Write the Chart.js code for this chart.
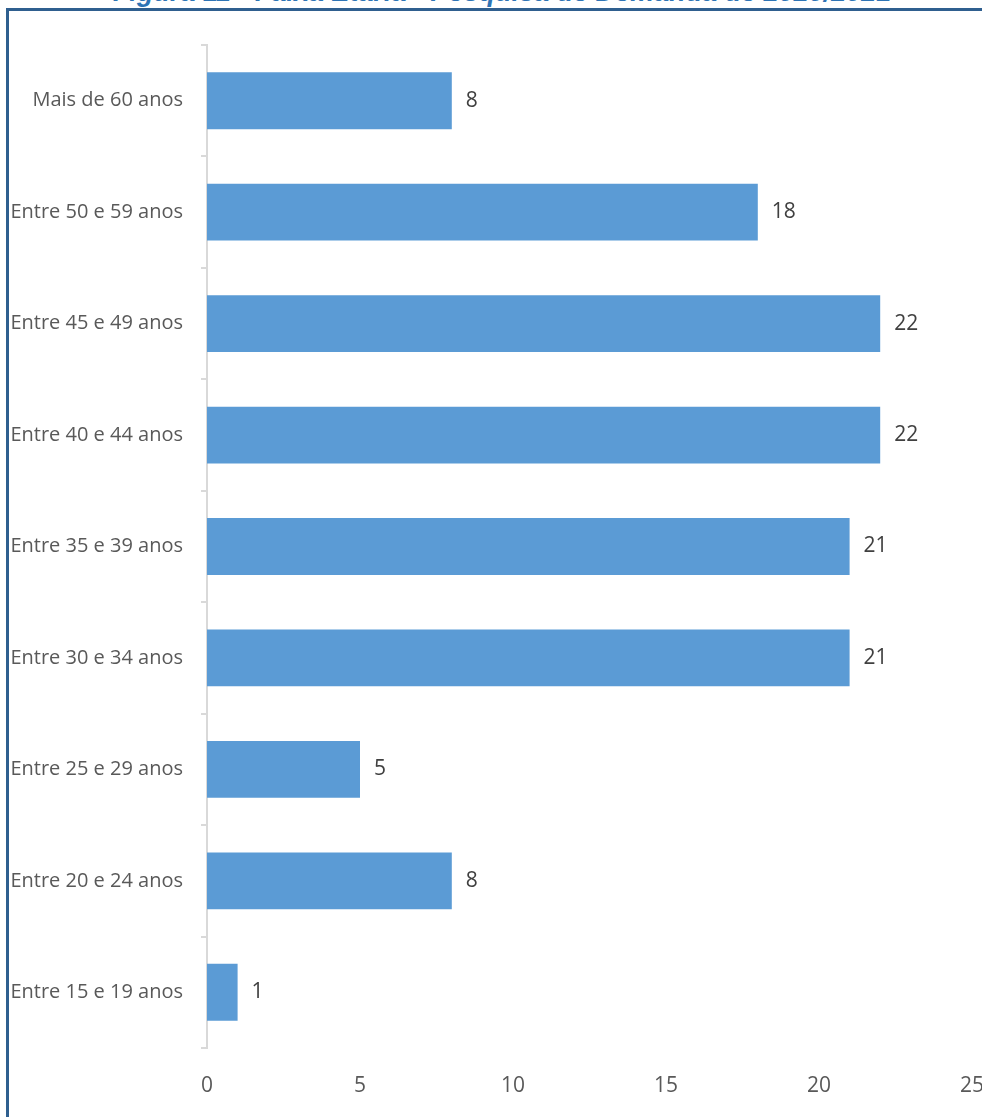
<!DOCTYPE html>
<html>
<head>
<meta charset="utf-8">
<script src="https://cdn.jsdelivr.net/npm/chart.js@4.4.0/dist/chart.umd.min.js"></script>
<style>
  html, body { margin: 0; padding: 0; background: #fff; overflow: hidden; }
  #wrap { position: relative; width: 982px; height: 1117px; }
  #titulo {
    position: absolute; left: 113px; top: -23px; white-space: nowrap;
    font: italic bold 27px/30px "Liberation Sans", Arial, sans-serif; color: #2E74B5;
  }
  #moldura {
    position: absolute; left: 6px; top: 8px; width: 990px; height: 1200px;
    border-left: 3px solid #2F5F8F; border-top: 3px solid #2F5F8F;
  }
  #grafico { position: absolute; left: 0; top: 0; }
</style>
</head>
<body>
<div id="wrap">
  <div id="titulo">Figura 11 - Faixa Etária - Pesquisa de Demanda de 2020/2021</div>
  <div id="moldura"></div>
  <canvas id="grafico" width="982" height="1117"></canvas>
</div>
<script>
// faixas etarias (de cima para baixo como no grafico)
var faixas = [
  'Mais de 60 anos',
  'Entre 50 e 59 anos',
  'Entre 45 e 49 anos',
  'Entre 40 e 44 anos',
  'Entre 35 e 39 anos',
  'Entre 30 e 34 anos',
  'Entre 25 e 29 anos',
  'Entre 20 e 24 anos',
  'Entre 15 e 19 anos'
];
var quantidade = [8, 18, 22, 22, 21, 21, 5, 8, 1];
var ticksX = [0, 5, 10, 15, 20, 25];

var fonte = '"Liberation Sans Narrow", "Open Sans", sans-serif';

// escreve o valor ao lado de cada barra
var rotulos = {
  id: 'rotulos',
  afterDatasetsDraw: function(chart) {
    var ctx = chart.ctx;
    var meta = chart.getDatasetMeta(0);
    ctx.save();
    ctx.font = '21px ' + fonte;
    ctx.fillStyle = '#404040';
    ctx.textAlign = 'left';
    ctx.textBaseline = 'middle';
    meta.data.forEach(function(bar, i) {
      ctx.fillText(quantidade[i], bar.x + 14, bar.y);
    });
    ctx.restore();
  }
};

var ctx = document.getElementById('grafico');
var grafico = new Chart(ctx, {
  type: 'bar',
  data: {
    labels: faixas,
    datasets: [{
      label: 'Faixa Etária',
      data: quantidade,
      backgroundColor: '#5B9BD5',
      borderWidth: 0,
      barPercentage: 0.51,
      categoryPercentage: 1
    }]
  },
  options: {
    indexAxis: 'y',
    responsive: false,
    animation: false,
    layout: { padding: { top: 45, right: 10, left: 0, bottom: 0 } },
    plugins: {
      legend: { display: false },
      tooltip: { enabled: false }
    },
    scales: {
      x: {
        min: 0,
        max: 25,
        afterBuildTicks: function(scale) {
          scale.ticks = ticksX.map(function(v) { return { value: v }; });
        },
        afterFit: function(scale) {
          scale.height = 1117 - 1048;
          scale.paddingLeft = 0;
          scale.paddingRight = 0;
        },
        grid: { display: false },
        border: { display: false },
        ticks: {
          padding: 17,
          color: '#595959',
          font: { family: fonte, size: 21 }
        }
      },
      y: {
        afterFit: function(scale) { scale.width = 207; },
        grid: {
          drawOnChartArea: false,
          drawTicks: true,
          tickLength: 6,
          color: '#d9d9d9',
          lineWidth: 2
        },
        border: { color: '#d9d9d9', width: 2 },
        ticks: {
          padding: 18,
          color: '#595959',
          font: { family: fonte, size: 20 }
        }
      }
    }
  },
  plugins: [rotulos]
});
</script>
</body>
</html>
